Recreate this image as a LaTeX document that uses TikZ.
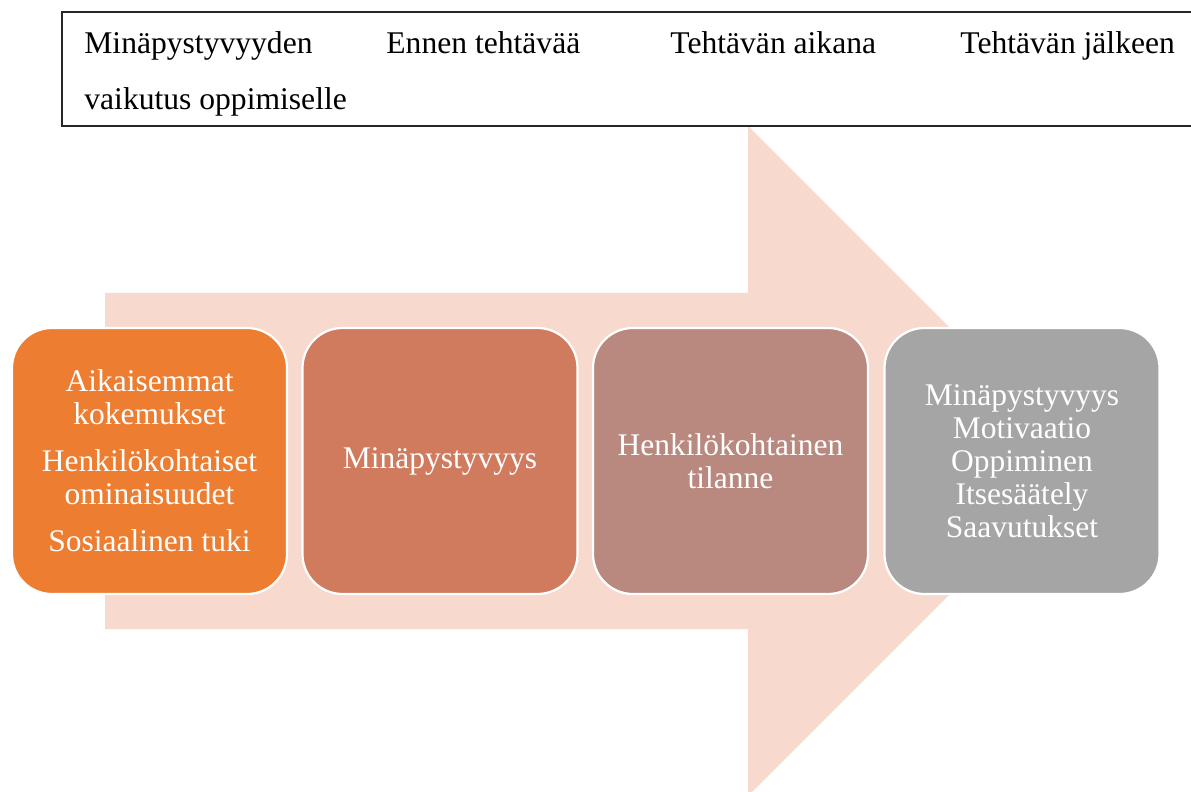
\documentclass[tikz,border=0pt]{standalone}
\usepackage{fontspec}
\setmainfont{Liberation Serif}
\definecolor{arrowfill}{HTML}{F8D9CE}
\definecolor{stepA}{HTML}{ED7D31}
\definecolor{stepB}{HTML}{D07B5E}
\definecolor{stepC}{HTML}{B98980}
\definecolor{stepD}{HTML}{A5A5A5}
\tikzset{
  stagebox/.style={draw=white, line width=1.1pt, rounded corners=20pt,
    minimum width=137.5pt, minimum height=133pt, inner sep=2pt,
    align=center, text=white,
    font=\fontsize{15.75}{16.5}\selectfont},
  headtext/.style={anchor=base west, inner sep=0pt, text=black,
    font=\fontsize{15.8}{18}\selectfont},
}
\begin{document}
\begin{tikzpicture}[x=0.5pt, y=-0.5pt]
  \useasboundingbox (0,0) rectangle (1191,792);

  % big background arrow
  \fill[arrowfill] (105,293) -- (748,293) -- (748,126) -- (1083,461)
    -- (748,796) -- (748,629) -- (105,629) -- cycle;

  % header frame (open to the right)
  \draw[line width=0.8pt, black!85] (1200,12) -- (62,12) -- (62,126) -- (1200,126);
  \node[headtext] (h1) at (84,54) {Minäpystyvyyden};
  \node[headtext] (h2) at (386,54) {Ennen tehtävää};
  \node[headtext] (h3) at (670,54) {Tehtävän aikana};
  \node[headtext] (h4) at (960,54) {Tehtävän jälkeen};
  \node[headtext] (h1b) at (84,110) {vaikutus oppimiselle};

  % stage boxes
  \node[stagebox, fill=stepA] (s1) at (149.5,461)
    {Aikaisemmat\\kokemukset\\[7pt]Henkilökohtaiset\\ominaisuudet\\[7pt]Sosiaalinen tuki};
  \node[stagebox, fill=stepB] (s2) at (440,461) {Minäpystyvyys};
  \node[stagebox, fill=stepC] (s3) at (730.5,461) {Henkilökohtainen\\tilanne};
  \node[stagebox, fill=stepD] (s4) at (1022,461)
    {Minäpystyvyys\\Motivaatio\\Oppiminen\\Itsesäätely\\Saavutukset};
\end{tikzpicture}
\end{document}
